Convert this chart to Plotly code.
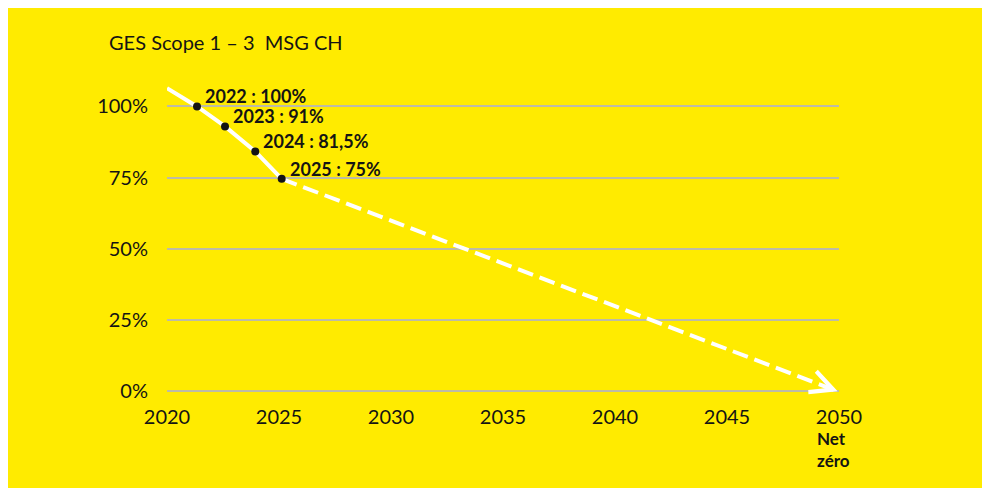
import plotly.graph_objects as go

# ---- data ----
solid_x = [2020.0, 2021.34, 2022.59, 2023.94, 2025.12]
solid_y = [106.4, 100.0, 93.0, 84.2, 74.6]

point_x = [2021.34, 2022.59, 2023.94, 2025.12]
point_y = [100.0, 93.0, 84.2, 74.6]
point_labels = ["2022 : 100%", "2023 : 91%", "2024 : 81,5%", "2025 : 75%"]

target_x = [2025.12, 2049.94]
target_y = [74.6, 0.0]

x_ticks = [2020, 2025, 2030, 2035, 2040, 2045, 2050]
y_ticks = [0, 25, 50, 75, 100]
y_tick_labels = ["0%", "25%", "50%", "75%", "100%"]

title_text = "GES Scope 1 – 3\u00a0\u00a0MSG CH"
net_zero_text = "Net<br>zéro"

# ---- styling ----
YELLOW = "#FFEB00"
INK = "#141414"
FONT = "Lato"

W, H = 977, 480
ML, MR, MT, MB = 159, 146, 70.2, 90.6
PW = W - ML - MR
PH = H - MT - MB


def px_to_paper_x(px):
    return (px - ML) / PW


def px_to_paper_y(py):
    return (H - MB - py) / PH


fig = go.Figure()

# solid part (actual)
fig.add_trace(go.Scatter(
    x=solid_x, y=solid_y, mode="lines",
    line=dict(color="white", width=4),
    hoverinfo="skip", showlegend=False,
))

# dashed part (trajectory)
fig.add_trace(go.Scatter(
    x=target_x, y=target_y, mode="lines",
    line=dict(color="white", width=4, dash="16px,7px"),
    hoverinfo="skip", showlegend=False,
))

# points
fig.add_trace(go.Scatter(
    x=point_x, y=point_y, mode="markers",
    marker=dict(color=INK, size=8),
    hoverinfo="skip", showlegend=False, cliponaxis=False,
))

annotations = []
for xv, yv, lab in zip(point_x, point_y, point_labels):
    annotations.append(dict(
        x=xv, y=yv, xref="x", yref="y", text=lab, showarrow=False,
        xanchor="left", yanchor="middle", xshift=7, yshift=10, borderpad=0,
        font=dict(family=FONT, size=18, color=INK, weight="bold"),
    ))

# arrow head at the end of the trajectory
slope = (target_y[1] - target_y[0]) / (target_x[1] - target_x[0])
annotations.append(dict(
    x=target_x[1], y=target_y[1], xref="x", yref="y",
    ax=target_x[1] - 0.5, ay=target_y[1] - 0.5 * slope,
    axref="x", ayref="y", text="", showarrow=True,
    arrowhead=5, arrowwidth=3.5, arrowsize=1.25, arrowcolor="white",
))

# title
annotations.append(dict(
    x=px_to_paper_x(99), y=px_to_paper_y(34), xref="paper", yref="paper",
    text=title_text, showarrow=False, xanchor="left", yanchor="middle",
    font=dict(family=FONT, size=20, color=INK),
))

# Net zéro
annotations.append(dict(
    x=x_ticks[-1], y=px_to_paper_y(442), xref="x", yref="paper",
    text=net_zero_text, showarrow=False, xanchor="left", yanchor="middle",
    xshift=-23, align="left", borderpad=0,
    font=dict(family=FONT, size=17, color=INK, weight="bold"),
))

fig.update_layout(
    width=W, height=H,
    margin=dict(l=ML, r=MR, t=MT, b=MB, pad=0),
    paper_bgcolor=YELLOW,
    plot_bgcolor=YELLOW,
    showlegend=False,
    hovermode=False,
    font=dict(family=FONT, size=20, color=INK),
    annotations=annotations,
)

fig.update_xaxes(
    range=[2020, 2050], tickvals=x_ticks, ticktext=[str(v) for v in x_ticks],
    showgrid=False, zeroline=False, showline=False,
    ticks="outside", ticklen=2, tickcolor="rgba(0,0,0,0)",
    tickfont=dict(family=FONT, size=20, color=INK),
    fixedrange=True,
)
fig.update_yaxes(
    range=[-2, 110], tickvals=y_ticks, ticktext=y_tick_labels,
    showgrid=True, gridcolor="#BDBBA6", gridwidth=1.5,
    zeroline=False, showline=False,
    ticks="outside", ticklen=14, tickcolor="rgba(0,0,0,0)",
    tickfont=dict(family=FONT, size=20, color=INK),
    fixedrange=True,
)

fig.write_html("out.html")
